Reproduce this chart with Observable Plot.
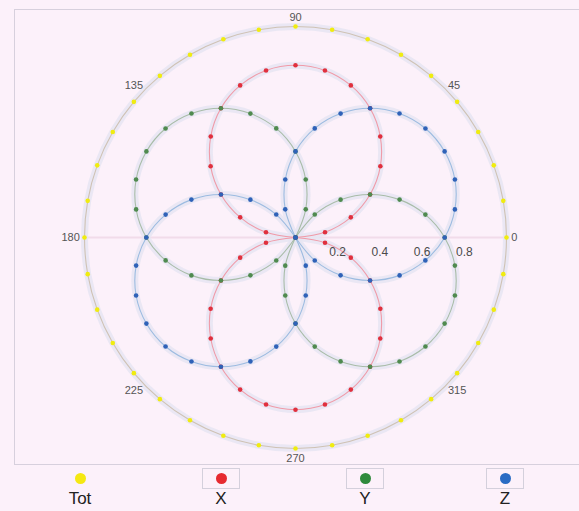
<!DOCTYPE html>
<html>
<head>
<meta charset="utf-8">
<script src="https://cdn.jsdelivr.net/npm/d3@7"></script>
<script src="https://cdn.jsdelivr.net/npm/@observablehq/plot@0.6"></script>
<style>
  html, body { margin: 0; padding: 0; background: #fcf1fa; }
  #wrap { position: relative; width: 579px; height: 511px; overflow: hidden; background: #fcf1fa; font-family: "Liberation Sans", Arial, sans-serif; }
  #frame { position: absolute; left: 14px; top: 9px; width: 575px; height: 456px; border: 1.5px solid #d7d0dd; box-sizing: border-box; }
  #chart { position: absolute; left: 0; top: 0; }
  .leg { position: absolute; top: 466px; width: 60px; margin-left: -30px; text-align: center; }
  .leg .box { margin: 2px auto 0; width: 38px; height: 21px; box-sizing: border-box; border: 1px solid #d4d0dc; display: flex; align-items: center; justify-content: center; }
  .leg .nobox { margin: 2px auto 0; width: 38px; height: 21px; display: flex; align-items: center; justify-content: center; }
  .leg .dot { width: 11px; height: 11px; border-radius: 50%; }
  .leg .lab { font-size: 17px; color: #222; margin-top: 0px; line-height: 19px; }
</style>
</head>
<body>
<div id="wrap">
  <div id="chart"></div>
  <div id="frame"></div>
  <div id="legend"></div>
</div>
<script>
// angles in degrees, every 10 degrees
const angles = [0,10,20,30,40,50,60,70,80,90,100,110,120,130,140,150,160,170,180,190,200,210,220,230,240,250,260,270,280,290,300,310,320,330,340,350];
const totValues = [1,1,1,1,1,1,1,1,1,1,1,1,1,1,1,1,1,1,1,1,1,1,1,1,1,1,1,1,1,1,1,1,1,1,1,1];
const xValues = [0,0.142,0.279,0.408,0.525,0.625,0.707,0.767,0.804,0.816,0.804,0.767,0.707,0.625,0.525,0.408,0.279,0.142,0,0.142,0.279,0.408,0.525,0.625,0.707,0.767,0.804,0.816,0.804,0.767,0.707,0.625,0.525,0.408,0.279,0.142];
const yValues = [0.707,0.625,0.525,0.408,0.279,0.142,0,0.142,0.279,0.408,0.525,0.625,0.707,0.767,0.804,0.816,0.804,0.767,0.707,0.625,0.525,0.408,0.279,0.142,0,0.142,0.279,0.408,0.525,0.625,0.707,0.767,0.804,0.816,0.804,0.767];
const zValues = [0.707,0.767,0.804,0.816,0.804,0.767,0.707,0.625,0.525,0.408,0.279,0.142,0,0.142,0.279,0.408,0.525,0.625,0.707,0.767,0.804,0.816,0.804,0.767,0.707,0.625,0.525,0.408,0.279,0.142,0,0.142,0.279,0.408,0.525,0.625];
const seriesNames = ["Tot","X","Y","Z"];
const dotColors = ["#f0ec10","#e0303e","#4f8a4f","#2f62b8"];
const lineColors = ["#cfc2b4","#f09aa8","#a8bca8","#9cbbe0"];
const legendColors = ["#f5e812","#e62a30","#2f8a3c","#2a6cc4"];
const angleTickValues = [0,45,90,135,180,225,270,315];
const angleTickLabels = ["0","45","90","135","180","225","270","315"];
const radialTickValues = [0.2,0.4,0.6,0.8];
const radialTickLabels = ["0.2","0.4","0.6","0.8"];

const seriesValues = [totValues, xValues, yValues, zValues];
const rad = d => d * Math.PI / 180;
function toPts(vals) {
  return angles.map((a, i) => ({a, r: vals[i], x: vals[i] * Math.cos(rad(a)), y: vals[i] * Math.sin(rad(a))}));
}
// split a series into lobes between zero-radius points (each lobe tagged by z)
function lobes(pts) {
  const n = pts.length;
  const zeros = pts.map((p, i) => p.r === 0 ? i : -1).filter(i => i >= 0);
  if (zeros.length === 0) return null;
  const out = [];
  zeros.forEach((z0, k) => {
    const z1 = zeros[(k + 1) % zeros.length];
    let i = z0;
    const end = z1 > z0 ? z1 : z1 + n;
    for (let j = z0; j <= end; j++) out.push({...pts[j % n], lobe: k});
  });
  return out;
}
const pointSets = seriesValues.map(toPts);

const angleLabelData = angleTickValues.map((a, i) => {
  const c = Math.cos(rad(a)), s = Math.sin(rad(a));
  const anchor = c > 0.5 ? "start" : c < -0.5 ? "end" : "middle";
  const rr = anchor === "middle" ? 1.045 : 1.022;
  return {label: angleTickLabels[i], x: rr * c, y: rr * s, anchor};
});
const radialLabelData = radialTickValues.map((v, i) => ({label: radialTickLabels[i], x: v, y: 0}));

function lineMark(pts, opts) {
  const lb = lobes(pts);
  if (lb) return Plot.line(lb, {x:"x", y:"y", z:"lobe", curve:"catmull-rom", ...opts});
  return Plot.line(pts, {x:"x", y:"y", curve:"catmull-rom-closed", ...opts});
}

const marks = [];
// faint radial axis line along 0-180
marks.push(Plot.line([{x:-1,y:0},{x:1,y:0}], {x:"x", y:"y", stroke:"#f1dcea", strokeWidth:2}));
// halos
pointSets.forEach(pts => marks.push(lineMark(pts, {stroke:"#e6e5f2", strokeWidth:7, strokeOpacity:0.85, strokeLinejoin:"round"})));
// thin lines
pointSets.forEach((pts, i) => marks.push(lineMark(pts, {stroke: lineColors[i], strokeWidth:1.1})));
// dots
pointSets.forEach((pts, i) => marks.push(Plot.dot(pts, {x:"x", y:"y", r:2.3, fill: dotColors[i], stroke:"none"})));
// angle labels
["start","middle","end"].forEach(anc => {
  marks.push(Plot.text(angleLabelData.filter(d => d.anchor === anc), {x:"x", y:"y", text:"label", textAnchor: anc, fill:"#555", fontSize:11, fontFamily:"Liberation Sans, Arial, sans-serif"}));
});
// radial labels
marks.push(Plot.text(radialLabelData, {x:"x", y:"y", text:"label", dy:15, fill:"#4a4a4a", fontSize:12, fontFamily:"Liberation Sans, Arial, sans-serif"}));

const chart = Plot.plot({
  width: 579,
  height: 466,
  marginLeft: 84,
  marginRight: 73,
  marginTop: 26,
  marginBottom: 18,
  x: {domain: [-1, 1], axis: null},
  y: {domain: [-1, 1], axis: null},
  style: {background: "transparent", overflow: "visible"},
  marks
});
document.getElementById("chart").appendChild(chart);

// legend
const legendX = [80, 221, 365, 505];
const legend = document.getElementById("legend");
seriesNames.forEach((name, i) => {
  const item = document.createElement("div");
  item.className = "leg";
  item.style.left = legendX[i] + "px";
  const b = document.createElement("div");
  b.className = i === 0 ? "nobox" : "box";
  const d = document.createElement("div");
  d.className = "dot";
  d.style.background = legendColors[i];
  b.appendChild(d);
  const l = document.createElement("div");
  l.className = "lab";
  l.textContent = name;
  item.appendChild(b);
  item.appendChild(l);
  legend.appendChild(item);
});
</script>
</body>
</html>
